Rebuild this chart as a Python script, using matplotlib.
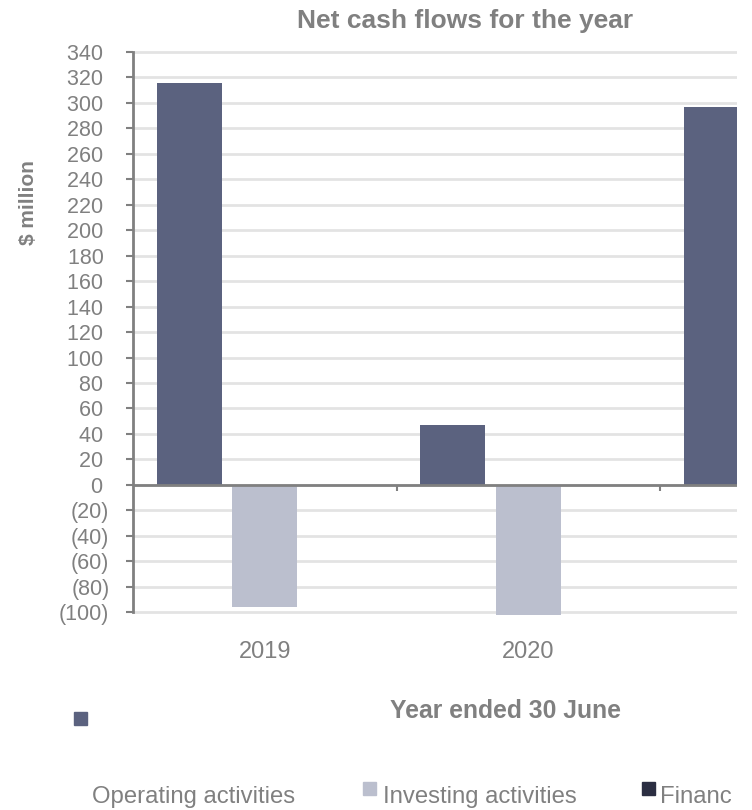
import numpy as np
import matplotlib
matplotlib.use("Agg")
import matplotlib.pyplot as plt
from matplotlib.patches import Rectangle
from matplotlib.transforms import Bbox

# ---- data ----
years = ["2019", "2020", "2021"]
operating = [316, 47, 297]
investing = [-96, -102, 0]
financing = [0, 0, 0]
series_names = ["Operating activities", "Investing activities", "Financing activities"]
y_ticks = list(range(-100, 341, 20))

colors = ["#5b627f", "#bbbfce", "#2b2e42"]
gray = "#808080"

plt.rcParams["font.family"] = ["Liberation Sans", "DejaVu Sans"]

W, H = 752, 810
fig = plt.figure(figsize=(W / 100, H / 100), dpi=100)

def px(x0, y0, x1, y1):
    return [x0 / W, 1 - y1 / H, (x1 - x0) / W, (y1 - y0) / H]

ax = fig.add_axes(px(133, 51.4, 737, 614.7))

x = np.arange(len(years))
bw = 0.247
off = 0.2865
ax.bar(x - off, operating, bw, color=colors[0], zorder=2)
ax.bar(x, investing, bw, color=colors[1], zorder=2)
ax.bar(x + off, financing, bw, color=colors[2], zorder=2)

# grid / y ticks
ax.set_yticks(y_ticks)
ax.set_yticklabels([f"({-v})" if v < 0 else f"{v} " for v in y_ticks],
                   fontsize=15.5, color=gray)
ax.yaxis.grid(True, color="#e3e3e3", linewidth=2, zorder=0)
ax.set_axisbelow(True)
ax.tick_params(axis="y", length=5, width=1.5, color=gray, pad=12)

# x labels
ax.set_xticks(x)
ax.set_xticklabels(years, fontsize=17, color=gray)
ax.tick_params(axis="x", length=0, pad=19)

ax.set_xlim(-0.5, 1.792)
ax.set_ylim(-102, 340.5)

for s in ["top", "right", "bottom"]:
    ax.spines[s].set_visible(False)
ax.spines["left"].set_color(gray)
ax.spines["left"].set_linewidth(2)
ax.spines["left"].set_bounds(y_ticks[0], y_ticks[-1])

# zero line and category separators
ax.axhline(0, color=gray, linewidth=2, zorder=3)
ax.vlines(x[:-1] + 0.5, -5, 0, color=gray, linewidth=1.5, zorder=3)

# titles
fig.text(465 / W, 1 - 28 / H, "Net cash flows for the year", fontsize=19,
         fontweight="bold", color=gray, ha="center", va="baseline")
fig.text(28 / W, 1 - 203 / H, "$ million", fontsize=15, fontweight="bold",
         color=gray, ha="center", va="center", rotation=90)
fig.text(506 / W, 1 - 718 / H, "Year ended 30 June", fontsize=17.8,
         fontweight="bold", color=gray, ha="center", va="baseline")

# legend (as laid out in the reference)
def sq(x0, y0, size, c):
    fig.add_artist(Rectangle((x0 / W, 1 - (y0 + size) / H), size / W, size / H,
                             transform=fig.transFigure, color=c))

sq(74, 712, 12.5, colors[0])
sq(363, 782, 13, colors[1])
sq(642, 782, 13, colors[2])
fig.text(91.7 / W, 1 - 803 / H, series_names[0], fontsize=17.2, color=gray,
         ha="left", va="baseline")
fig.text(383 / W, 1 - 803 / H, series_names[1], fontsize=17.2, color=gray,
         ha="left", va="baseline")
t3 = fig.text(660 / W, 1 - 803 / H, series_names[2], fontsize=17.2, color=gray,
              ha="left", va="baseline")
t3.set_clip_box(Bbox.from_extents(0, 0, 733, H))
t3.set_clip_on(True)

fig.savefig("out.png", dpi=100)
